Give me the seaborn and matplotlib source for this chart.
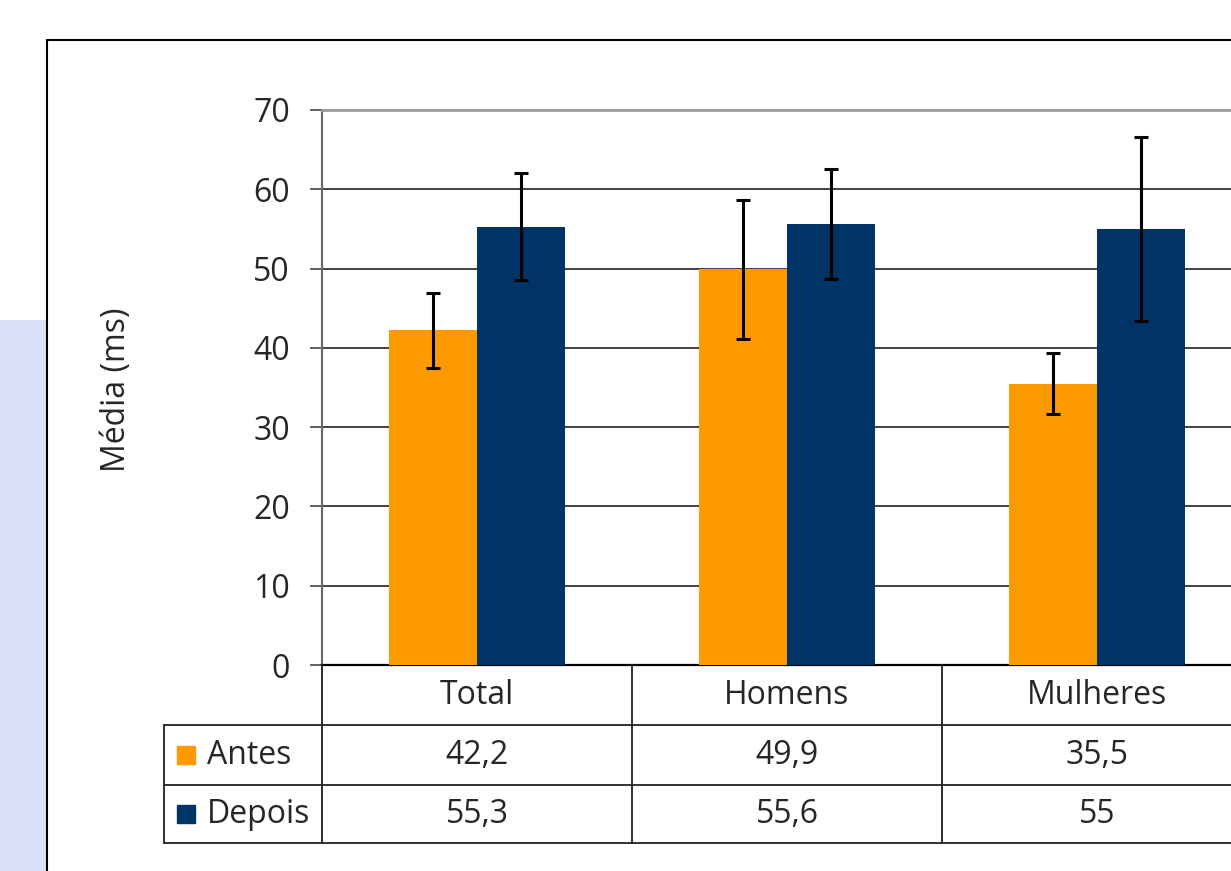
import pandas as pd
import matplotlib
matplotlib.use('Agg')
import matplotlib.pyplot as plt
from matplotlib.patches import Rectangle
import seaborn as sns

# ─── dados ──────────────────────────────────────────────
grupos = ["Total", "Homens", "Mulheres"]
series = ["Antes", "Depois"]
antes = [42.2, 49.9, 35.5]
depois = [55.3, 55.6, 55.0]
erro_antes = [4.7, 8.8, 3.9]
erro_depois = [6.7, 6.9, 11.6]
y_ticks = [0, 10, 20, 30, 40, 50, 60, 70]
y_label = "Média (ms)"

LARANJA = "#FF9900"
AZUL = "#003366"

df = pd.DataFrame({
    "grupo": grupos * 2,
    "momento": ["Antes"] * 3 + ["Depois"] * 3,
    "media": antes + depois,
})

sns.set_style("white")
plt.rcParams['font.family'] = ['Open Sans', 'DejaVu Sans']

W, H = 1231, 871
fig = plt.figure(figsize=(W / 100, H / 100), dpi=100)
fig.patch.set_facecolor("white")

# fundo do slide (faixa azulada) e moldura do gráfico
fig.add_artist(Rectangle((0, 0), 47 / W, 1 - 320 / H, transform=fig.transFigure,
                         facecolor="#d9e2f6", edgecolor="none", zorder=0))
fig.add_artist(Rectangle((47 / W, -0.1), 1.2, 1 - 40 / H + 0.1, transform=fig.transFigure,
                         facecolor="white", edgecolor="black", lw=1.5, zorder=1))

ax = fig.add_axes([322 / W, 1 - 665 / H, 930 / W, 555 / H])
ax.set_facecolor("none")
ax.set_zorder(2)

sns.barplot(data=df, x="grupo", y="media", hue="momento", order=grupos,
            hue_order=series, palette=[LARANJA, AZUL], width=0.57, gap=0,
            saturation=1, errorbar=None, legend=False, linewidth=0, ax=ax, zorder=3)

# barras de erro
for cont, err in zip(ax.containers, [erro_antes, erro_depois]):
    xs = [b.get_x() + b.get_width() / 2 for b in cont]
    hs = [b.get_height() for b in cont]
    ax.errorbar(xs, hs, yerr=err, fmt="none", ecolor="black", elinewidth=2.2,
                capsize=5, capthick=2.2, zorder=4)

ax.set_xlim(-0.5, 2.5)
ax.set_ylim(0, 70)
ax.set_yticks(y_ticks)
ax.yaxis.grid(True, color="#333333", lw=1.3)
ax.set_axisbelow(True)
ax.set_xlabel("")
ax.set_ylabel("")
ax.set_xticks([])
ax.tick_params(axis="y", left=True, length=9, width=1.3, color="#555555",
               labelsize=23, pad=14)
ax.spines["right"].set_visible(False)
ax.spines["top"].set_color("#999999")
ax.spines["top"].set_linewidth(2)
ax.spines["left"].set_color("#666666")
ax.spines["left"].set_linewidth(1.5)
ax.spines["bottom"].set_color("black")
ax.spines["bottom"].set_linewidth(1.6)

fig.text(116 / W, 1 - 390 / H, y_label, rotation=90, ha="center", va="center", fontsize=23)

# tabela de dados
tr = ax.get_xaxis_transform()
linhas_y = [0, -60 / 555, -120 / 555, -178 / 555]
x_esq = -0.5 - 158 / 310
lkw = dict(color="#222222", lw=1.3, transform=tr, clip_on=False, zorder=5)
for yy in linhas_y[1:]:
    ax.plot([x_esq, 2.5], [yy, yy], **lkw)
ax.plot([x_esq, x_esq], [linhas_y[1], linhas_y[3]], **lkw)
for xv in [-0.5, 0.5, 1.5, 2.5]:
    ax.plot([xv, xv], [0, linhas_y[3]], **lkw)

txt = dict(transform=tr, ha="center", va="center", fontsize=23, clip_on=False)
for i, g in enumerate(grupos):
    ax.text(i, (linhas_y[0] + linhas_y[1]) / 2, g, **txt)
for r, (nome, vals, cor) in enumerate(zip(series, [antes, depois], [LARANJA, AZUL])):
    ym = (linhas_y[r + 1] + linhas_y[r + 2]) / 2
    ax.plot([x_esq + 22 / 310], [ym], marker="s", markersize=12.5, color=cor,
            transform=tr, clip_on=False, zorder=6)
    ax.text(x_esq + 43 / 310, ym, nome, transform=tr, ha="left", va="center",
            fontsize=23, clip_on=False)
    for i, v in enumerate(vals):
        ax.text(i, ym, f"{v:g}".replace(".", ","), **txt)

fig.savefig("out.png", dpi=100)
